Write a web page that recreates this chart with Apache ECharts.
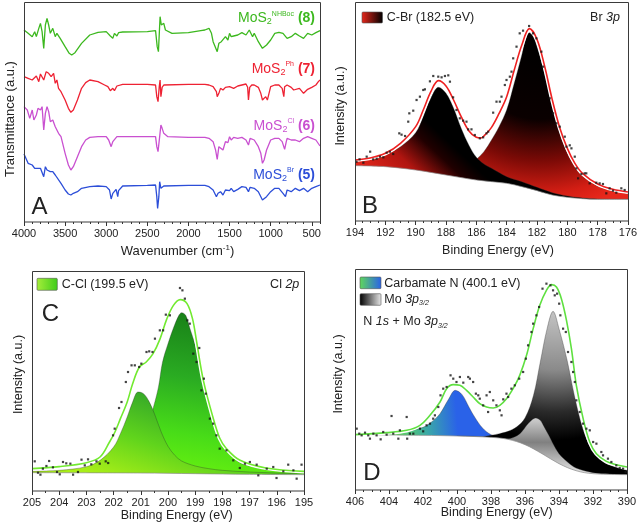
<!DOCTYPE html>
<html><head><meta charset="utf-8">
<script src="https://cdn.jsdelivr.net/npm/echarts@6/dist/echarts.min.js"></script>
<style>html,body{margin:0;padding:0;background:#fff}#c{width:640px;height:526px}</style>
</head><body><div id="c"></div>
<script>
// ---------- Panel A: FTIR (wavenumber cm-1, transmittance a.u.) ----------
const irTicks = [500,1000,1500,2000,2500,3000,3500,4000];
const ir8 = [[4000,610],[3950,600],[3900,590],[3870,605],[3850,590],[3820,615],[3800,630],[3780,605],[3760,555],[3740,625],[3720,645],[3700,625],[3680,600],[3650,615],[3620,590],[3600,600],[3560,585],[3500,560],[3450,540],[3420,535],[3380,542],[3300,570],[3200,595],[3100,603],[3000,605],[2950,592],[2920,585],[2900,600],[2870,592],[2850,602],[2800,604],[2500,605],[2400,608],[2380,560],[2365,545],[2345,650],[2330,625],[2300,630],[2280,610],[2200,600],[2000,602],[1850,608],[1800,610],[1750,615],[1720,600],[1700,575],[1680,570],[1650,545],[1630,570],[1600,575],[1580,570],[1550,590],[1520,580],[1500,600],[1480,590],[1450,592],[1400,595],[1350,602],[1300,595],[1260,610],[1220,590],[1200,600],[1150,575],[1100,555],[1050,565],[1000,580],[950,600],[900,603],[850,600],[800,585],[750,590],[700,600],[650,592],[600,585],[550,600],[500,595],[450,602],[400,608]];
const ir7 = [[4000,470],[3950,465],[3900,460],[3850,472],[3820,455],[3800,478],[3760,460],[3730,485],[3700,480],[3670,470],[3640,480],[3620,450],[3600,460],[3580,435],[3550,425],[3500,400],[3460,375],[3430,363],[3400,370],[3350,400],[3300,435],[3250,452],[3200,460],[3100,455],[3020,445],[2980,440],[2950,428],[2920,435],[2900,428],[2870,442],[2850,438],[2800,447],[2500,447],[2400,445],[2385,410],[2370,395],[2355,440],[2345,460],[2335,410],[2320,438],[2300,445],[2000,447],[1800,447],[1750,445],[1700,440],[1660,425],[1650,410],[1630,420],[1610,435],[1600,438],[1580,430],[1550,438],[1500,440],[1450,435],[1400,442],[1350,445],[1300,448],[1280,438],[1270,400],[1255,438],[1230,445],[1200,445],[1150,438],[1120,420],[1100,400],[1080,405],[1060,410],[1040,400],[1020,420],[1000,440],[950,445],[900,445],[860,435],[840,410],[830,440],[800,445],[750,438],[720,430],[700,425],[650,435],[600,420],[550,432],[500,438],[450,445],[420,455],[400,460]];
const ir6 = [[4000,380],[3960,370],[3930,345],[3900,370],[3880,340],[3850,355],[3830,375],[3800,370],[3780,380],[3760,310],[3740,360],[3720,380],[3700,365],[3680,335],[3650,340],[3620,320],[3600,320],[3580,300],[3550,290],[3500,240],[3460,205],[3430,190],[3400,200],[3350,230],[3300,260],[3250,280],[3200,288],[3100,290],[3000,290],[2970,280],[2940,260],[2920,275],[2900,272],[2870,290],[2800,290],[2500,290],[2400,290],[2385,260],[2370,245],[2350,290],[2335,325],[2320,315],[2300,300],[2250,290],[2000,288],[1800,288],[1750,285],[1700,275],[1670,250],[1650,222],[1630,260],[1610,260],[1580,250],[1550,275],[1520,272],[1500,290],[1480,280],[1450,288],[1400,285],[1350,288],[1300,280],[1270,265],[1250,285],[1200,280],[1150,260],[1120,240],[1100,210],[1080,220],[1050,250],[1000,280],[950,285],[900,285],[860,275],[830,252],[810,275],[800,285],[750,280],[700,280],[650,275],[600,285],[550,290],[500,285],[450,280],[400,262]];
const ir5 = [[4000,238],[3950,210],[3900,205],[3870,195],[3850,200],[3800,195],[3780,190],[3760,170],[3740,200],[3720,190],[3700,195],[3680,185],[3650,185],[3620,175],[3600,170],[3550,150],[3500,130],[3460,118],[3430,115],[3400,120],[3350,125],[3300,135],[3200,140],[3100,142],[3000,140],[2960,130],[2940,103],[2920,120],[2880,132],[2860,110],[2850,128],[2800,142],[2500,144],[2400,145],[2385,110],[2375,75],[2360,110],[2350,155],[2335,135],[2300,142],[2000,144],[1800,144],[1750,140],[1700,130],[1660,110],[1640,120],[1610,125],[1580,115],[1550,130],[1500,128],[1480,135],[1450,125],[1400,132],[1350,140],[1300,138],[1270,125],[1250,138],[1200,135],[1150,125],[1100,100],[1080,97],[1050,110],[1000,125],[950,135],[900,135],[850,120],[820,110],[800,130],[750,125],[700,135],[650,128],[600,135],[550,125],[500,135],[450,140],[400,145]];

// ---------- Panel B: Br 3p ----------
const brBg = [[194,203],[192,200],[190,190],[188,175],[186,160],[184,150],[183,140],[182,128],[181,115],[180,108],[179,104],[178,102],[176,102]];
const brPeak1885 = [[194,222],[193,225],[192,238],[191,260],[190,302],[189.5,350],[189,405],[188.5,438],[188,420],[187.5,375],[187,315],[186.5,265],[186,228],[185.5,208],[185,195],[184,170],[183,155],[182,138],[181,122],[180,112],[179,106],[178,103],[176,102]];
const brPeak1825 = [[194,204],[192,200],[190,195],[188,185],[187,195],[186.5,205],[186,222],[185.5,245],[185,280],[184.5,320],[184,370],[183.5,450],[183,535],[182.75,582],[182.5,602],[182.25,590],[182,560],[181.5,480],[181,385],[180.5,302],[180,242],[179.5,202],[179,172],[178,142],[177,128],[176,120]];
const brEnvelope = [[194,220],[193,226],[192,240],[191,270],[190,320],[189.5,370],[189,425],[188.5,458],[188,442],[187.5,400],[187,350],[186.5,308],[186,288],[185.7,286],[185.5,292],[185,318],[184.5,360],[184,410],[183.5,490],[183,565],[182.5,614],[182,582],[181.5,502],[181,402],[180.5,317],[180,255],[179.5,210],[179,180],[178,148],[177,132],[176,124]];
const brPoints = [[193.9,215],[193.7,222],[193.45,212],[193.23,230],[193.0,245],[192.8,222],[192.57,224],[192.35,230],[192.13,228],[191.91,242],[191.7,245],[191.48,238],[191.08,300],[190.93,296],[190.7,292],[190.49,335],[190.42,360],[190.16,368],[189.94,400],[189.72,410],[189.5,430],[189.39,432],[189.06,456],[188.84,472],[188.51,470],[188.29,468],[188.07,472],[187.85,474],[187.74,455],[187.53,408],[187.31,370],[187.09,345],[186.87,338],[186.65,335],[186.54,312],[186.32,312],[186.1,295],[185.77,285],[185.55,288],[185.33,300],[185.22,305],[184.89,362],[184.67,395],[184.45,395],[184.34,410],[184.12,445],[184.01,460],[183.79,470],[183.68,485],[183.57,525],[183.35,560],[183.14,600],[182.92,608],[182.52,622],[182.26,600],[182.04,585],[181.71,545],[181.6,500],[181.16,405],[180.94,360],[180.72,330],[180.5,320],[180.17,290],[180.06,260],[179.84,264],[179.73,255],[179.51,230],[179.4,195],[179.29,165],[179.07,178],[178.86,180],[178.75,180],[178.53,150],[178.09,152],[177.87,150],[177.65,148],[177.43,120],[177.21,135],[176.99,128],[176.77,122],[176.44,135],[176.22,130]];

// ---------- Panel C: Cl 2p ----------
const clBg = [[205,68],[201,67],[199,65],[197,63],[195,62]];
const clPeak2011 = [[205,72],[204,75],[203,86],[202.5,105],[202,145],[201.75,185],[201.5,235],[201.3,280],[201.1,310],[200.9,305],[200.7,282],[200.5,245],[200.25,190],[200,147],[199.75,120],[199.5,103],[199,88],[198.5,80],[198,75],[197,70],[196,67],[195,64]];
const clPeak1995 = [[205,70],[203,73],[202,82],[201.5,100],[201,155],[200.7,220],[200.5,275],[200.35,325],[200.2,400],[200,455],[199.8,502],[199.6,540],[199.5,548],[199.35,540],[199.2,502],[199,450],[198.8,375],[198.6,300],[198.4,245],[198.2,200],[197.85,140],[197.4,100],[197,88],[196.4,78],[196,74],[195,67]];
const clEnvelope = [[205,80],[204,86],[203,98],[202.5,115],[202.15,160],[201.95,190],[201.75,230],[201.5,280],[201.3,335],[201.05,385],[200.8,400],[200.55,425],[200.3,468],[200.05,528],[199.8,570],[199.55,587],[199.3,575],[199.1,530],[198.95,462],[198.7,345],[198.35,235],[198.1,172],[197.85,140],[197.35,105],[196.4,82],[195,72]];
const clPoints = [[204.9,102],[204.78,68],[204.69,62],[204.6,80],[204.47,88],[204.37,103],[204.23,84],[204.08,70],[203.98,63],[203.86,100],[203.74,96],[203.59,95],[203.49,62],[203.31,70],[203.18,107],[203.06,90],[202.94,108],[202.82,93],[202.63,102],[202.51,95],[202.29,102],[202.2,97],[202.02,180],[201.96,200],[201.8,262],[201.71,280],[201.55,340],[201.47,370],[201.34,390],[201.22,390],[201.06,385],[200.98,395],[200.79,430],[200.69,432],[200.57,430],[200.48,470],[200.3,495],[200.18,495],[200.08,542],[199.93,540],[199.56,622],[199.47,615],[199.38,590],[199.29,525],[199.2,515],[199.07,425],[198.95,400],[198.85,442],[198.77,315],[198.68,350],[198.61,305],[198.46,230],[198.34,215],[198.22,180],[198.1,140],[197.85,135],[197.6,105],[197.36,82],[197.17,95],[196.99,100],[196.74,92],[196.68,60],[196.37,80],[196.13,85],[196.01,52],[195.76,72],[195.58,92],[195.39,75],[195.27,50],[195.09,92]];

// ---------- Panel D: N 1s + Mo 3p3/2 ----------
const nBg = [[406,182],[402,180],[400,178],[398,174],[397,168],[396,152],[395,125],[394,95],[393,74],[392,65],[390,62]];
const nPeak4001 = [[406,185],[404,188],[403,192],[402,204],[401.5,220],[401,245],[400.5,288],[400.1,315],[399.7,302],[399.3,265],[399,238],[398.5,202],[398,182],[397.5,173],[397,168],[396,152]];
const moPeak3944 = [[400,178],[399,177],[398.5,176],[398,180],[397.5,185],[397,192],[396.5,205],[396,232],[395.5,300],[395.1,400],[394.7,500],[394.35,552],[394,500],[393.5,400],[393.1,300],[392.6,200],[392.1,140],[391.4,100],[390.4,80],[390,75]];
const moPeak3953 = [[398,173],[397,170],[396.5,178],[396.2,190],[395.9,210],[395.6,226],[395.37,232],[395.1,225],[394.9,208],[394.6,180],[394.3,150],[394,125],[393.5,100],[393,82],[392,68],[391,64],[390,62]];
const nEnvelope = [[406,182],[404.14,188],[402.96,195],[402.18,210],[401.59,240],[401,280],[400.61,320],[400.22,332],[399.83,330],[399.44,315],[399.05,295],[398.66,275],[398.26,265],[397.87,262],[397.48,270],[397.09,290],[396.7,320],[396.31,360],[395.91,420],[395.52,500],[395.13,570],[394.74,615],[394.44,632],[394.15,625],[393.86,590],[393.56,525],[393.27,440],[392.98,330],[392.58,230],[392.19,160],[391.8,125],[391.21,102],[390.63,92],[390,85]];
const nPoints = [[405.9,200],[405.75,185],[405.61,180],[405.41,188],[405.22,180],[405.12,170],[404.92,185],[404.73,180],[404.49,168],[404.34,190],[404.14,182],[403.85,238],[403.75,185],[403.45,170],[403.36,195],[402.96,235],[402.93,170],[402.77,185],[402.57,185],[402.18,200],[401.99,192],[401.79,210],[401.59,215],[401.4,230],[401.3,240],[401.1,265],[400.97,300],[400.81,320],[400.61,325],[400.38,360],[400.22,350],[400.03,340],[399.83,355],[399.63,338],[399.34,355],[399.24,350],[399.05,340],[398.89,305],[398.75,300],[398.66,290],[398.46,270],[398.26,300],[398.17,250],[398.07,310],[397.87,285],[397.68,270],[397.48,255],[397.38,240],[397.28,288],[397.09,305],[396.99,295],[396.8,320],[396.6,330],[396.34,350],[396.11,370],[395.95,410],[395.82,450],[395.62,490],[395.52,515],[395.33,540],[395.17,565],[394.97,620],[394.74,635],[394.5,630],[394.35,615],[394.25,600],[394.11,605],[393.99,575],[393.92,540],[393.76,500],[393.6,490],[393.47,430],[393.27,400],[393.17,370],[393.07,340],[392.98,285],[392.78,250],[392.58,215],[392.39,200],[392.19,195],[391.99,160],[391.8,155],[391.51,130],[391.41,120],[391.12,110],[390.92,100],[390.63,90],[390.43,82],[390.23,80],[390.08,70]];

// ---------- rendering ----------
const FONT = '"Liberation Sans", Arial, Helvetica, sans-serif';
const chart = echarts.init(document.getElementById('c'), null, {renderer: 'canvas'});

const grids = [
  {left: 24, top: 2, width: 296, height: 220},
  {left: 355, top: 2, width: 273, height: 219},
  {left: 32, top: 271, width: 272, height: 220},
  {left: 355, top: 269, width: 272, height: 221}
];

const tickColor = '#333';
const plainNum = function (v) { return String(v); };
const lbl = {fontSize: 11, color: '#222', fontFamily: FONT, margin: 6, formatter: plainNum};
function xps(gi, min, max, interval, minorSplit) {
  return {gridIndex: gi, type: 'value', min: min, max: max, interval: interval, inverse: true, position: 'bottom',
    axisLine: {show: false}, splitLine: {show: false},
    axisTick: {show: true, length: 4, lineStyle: {color: tickColor, width: 1}},
    minorTick: {show: true, splitNumber: minorSplit, length: 2, lineStyle: {color: tickColor, width: 1}},
    axisLabel: lbl, z: 10};
}
const xAxes = [
  {gridIndex: 0, type: 'value', min: 400, max: 4000, interval: 100, inverse: true, position: 'bottom',
    axisLine: {show: false}, splitLine: {show: false}, axisLabel: {show: false},
    axisTick: {show: true, length: 2, lineStyle: {color: tickColor}}, z: 10},
  {gridIndex: 0, type: 'value', min: 400, max: 4000, inverse: true, position: 'bottom',
    axisLine: {show: false}, splitLine: {show: false},
    axisTick: {show: true, length: 4, customValues: irTicks, lineStyle: {color: tickColor}},
    axisLabel: Object.assign({customValues: irTicks}, lbl), z: 10},
  xps(1, 176, 194, 2, 4),
  xps(2, 195, 205, 1, 2),
  xps(3, 390, 406, 2, 4)
];
function yax(gi, min, max) {
  return {gridIndex: gi, type: 'value', min: min, max: max, show: true,
    axisLine: {show: false}, axisTick: {show: false}, axisLabel: {show: false}, splitLine: {show: false}};
}
const yAxes = [yax(0, 34, 694), yax(1, 37, 694), yax(2, 13, 673), yax(3, 16, 679)];

function irLine(data, color) {
  return {type: 'line', xAxisIndex: 1, yAxisIndex: 0, data: data, symbol: 'none', smooth: false,
    lineStyle: {color: color, width: 1.3}, z: 3, animation: false};
}
function area(xi, yi, data, fill, z) {
  return {type: 'line', xAxisIndex: xi, yAxisIndex: yi, data: data, symbol: 'none', smooth: 0.35,
    lineStyle: {color: 'rgba(40,40,40,0.55)', width: 0.6},
    areaStyle: {color: fill, opacity: 1, origin: 'start'}, z: z, animation: false};
}
function bgCover(xi, yi, data, z) {
  return {type: 'line', xAxisIndex: xi, yAxisIndex: yi, data: data, symbol: 'none', smooth: 0.35,
    lineStyle: {color: '#8a8a8a', width: 0.7},
    areaStyle: {color: '#ffffff', opacity: 1, origin: 'start'}, z: z, animation: false};
}
function env(xi, yi, data, color, z) {
  return [
    {type: 'line', xAxisIndex: xi, yAxisIndex: yi, data: data, symbol: 'none', smooth: 0.35,
      lineStyle: {color: '#ffffff', width: 4.2}, z: z, animation: false},
    {type: 'line', xAxisIndex: xi, yAxisIndex: yi, data: data, symbol: 'none', smooth: 0.35,
      lineStyle: {color: color, width: 1.6}, z: z + 1, animation: false}
  ];
}
function pts(xi, yi, data, z) {
  return {type: 'scatter', xAxisIndex: xi, yAxisIndex: yi, data: data, symbol: 'rect', symbolSize: 2.2,
    itemStyle: {color: '#151515'}, z: z, animation: false};
}
const lin = (x, y, x2, y2, stops) => ({type: 'linear', x: x, y: y, x2: x2, y2: y2, global: true,
  colorStops: stops.map(s => ({offset: s[0], color: s[1]}))});
const rad = (x, y, r, stops) => ({type: 'radial', x: x, y: y, r: r, global: true,
  colorStops: stops.map(s => ({offset: s[0], color: s[1]}))});

const series = [
  irLine(ir8, '#3cb81e'), irLine(ir7, '#ee2233'), irLine(ir6, '#c950d0'), irLine(ir5, '#2c4ed8'),
  // B
  area(2, 1, brPeak1825, rad(540, 45, 165, [[0,'#000'],[0.45,'#0a0000'],[0.7,'#7a0a06'],[0.9,'#d41e14'],[1,'#e8281c']]), 4),
  area(2, 1, brPeak1885, lin(380, 190, 455, 110, [[0,'#e8281c'],[0.35,'#b01510'],[0.6,'#200000'],[0.75,'#000']]), 5),
  bgCover(2, 1, brBg, 6),
  ...env(2, 1, brEnvelope, '#ee2020', 7),
  pts(2, 1, brPoints, 9),
  // C
  area(3, 2, clPeak1995, lin(185, 312, 160, 470, [[0,'#188018'],[0.4,'#2aab22'],[0.75,'#48dc18'],[1,'#66f010']]), 4),
  area(3, 2, clPeak2011, lin(145, 392, 115, 480, [[0,'#35a828'],[0.5,'#60d41c'],[1,'#a8ee18']]), 5),
  bgCover(3, 2, clBg, 6),
  ...env(3, 2, clEnvelope, '#72ea30', 7),
  pts(3, 2, clPoints, 9),
  // D
  area(4, 3, nPeak4001, lin(395, 400, 455, 395, [[0,'#5fd85a'],[0.5,'#3aa8a8'],[1,'#2a62e8']]), 4),
  area(4, 3, moPeak3944, rad(555, 300, 140, [[0,'#cfcfcf'],[0.5,'#8a8a8a'],[0.8,'#2a2a2a'],[1,'#000']]), 5),
  area(4, 3, moPeak3953, lin(536, 418, 536, 472, [[0,'#d0d0d0'],[0.45,'#808080'],[1,'#e0e0e0']]), 6),
  bgCover(4, 3, nBg, 7),
  ...env(4, 3, nEnvelope, '#5fe040', 8),
  pts(4, 3, nPoints, 10)
];

function txt(x, y, text, opt) {
  return {type: 'text', x: x, y: y, z: 120, silent: true,
    style: Object.assign({text: text, fontFamily: FONT, fontSize: 12.5, fill: '#222', align: 'left', verticalAlign: 'middle'}, opt || {})};
}
function frame(g) {
  return {type: 'rect', z: 110, silent: true,
    shape: {x: g.left + 0.5, y: g.top + 0.5, width: g.width, height: g.height - 0.5},
    style: {fill: 'none', stroke: '#3a3a3a', lineWidth: 1}};
}
function swatch(x, y, w, h, fill) {
  return {type: 'rect', z: 115, silent: true, shape: {x: x, y: y, width: w, height: h, r: 1},
    style: {fill: fill, stroke: '#555', lineWidth: 0.6}};
}
const swGrad = (stops) => ({type: 'linear', x: 0, y: 0, x2: 1, y2: 0, colorStops: stops.map(s => ({offset: s[0], color: s[1]}))});

function moLabel(x, y, sup, num, color) {
  return txt(x, y, '{a|MoS}{s|2}{p|' + sup + '}{b| (' + num + ')}', {align: 'right', fill: color,
    rich: {
      a: {fontSize: 14, lineHeight: 16, fontFamily: FONT, fill: color, verticalAlign: 'middle'},
      s: {fontSize: 9, lineHeight: 10, fontFamily: FONT, fill: color, verticalAlign: 'bottom'},
      p: {fontSize: 7, lineHeight: 8, fontFamily: FONT, fill: color, verticalAlign: 'top'},
      b: {fontSize: 14, lineHeight: 16, fontFamily: FONT, fontWeight: 'bold', fill: color, verticalAlign: 'middle'}
    }});
}
const richIt = {
  n: {fontSize: 12.5, lineHeight: 15, fontFamily: FONT, fill: '#222', verticalAlign: 'middle'},
  i: {fontSize: 12.5, lineHeight: 15, fontFamily: FONT, fontStyle: 'italic', fill: '#222', verticalAlign: 'middle'},
  s: {fontSize: 7, lineHeight: 9, fontFamily: FONT, fontStyle: 'italic', fill: '#222', verticalAlign: 'bottom'}
};

const graphics = [
  frame(grids[0]), frame(grids[1]), frame(grids[2]), frame(grids[3]),
  // panel letters
  txt(39.5, 207, 'A', {fontSize: 24, align: 'center'}),
  txt(370, 206, 'B', {fontSize: 24, align: 'center'}),
  txt(50.3, 314, 'C', {fontSize: 24, align: 'center'}),
  txt(372, 473, 'D', {fontSize: 24, align: 'center'}),
  // panel A labels
  moLabel(315, 18.3, 'NHBoc', '8', '#3cb81e'),
  moLabel(315, 69, 'Ph', '7', '#ee2233'),
  moLabel(315, 126, 'Cl', '6', '#c950d0'),
  moLabel(315, 175, 'Br', '5', '#2c4ed8'),
  // axis names
  txt(177.5, 251.5, '{n|Wavenumber (cm}{s|-1}{n|)}', {align: 'center', rich: {
    n: {fontSize: 13, lineHeight: 15, fontFamily: FONT, fill: '#222', verticalAlign: 'middle'},
    s: {fontSize: 8, lineHeight: 9, fontFamily: FONT, fill: '#222', verticalAlign: 'top'}}}),
  txt(498, 250.5, 'Binding Energy (eV)', {align: 'center'}),
  txt(176.7, 516, 'Binding Energy (eV)', {align: 'center'}),
  txt(496.7, 513, 'Binding Energy (eV)', {align: 'center'}),
  // legends B
  swatch(362, 12, 20.5, 11, swGrad([[0,'#e8281c'],[1,'#000']])),
  txt(386.7, 17.3, 'C-Br (182.5 eV)'),
  txt(620, 17.3, '{n|Br }{i|3p}', {align: 'right', rich: richIt}),
  // legends C
  swatch(37, 278.3, 20.3, 12, swGrad([[0,'#a6ee3a'],[1,'#3fcc1a']])),
  txt(61.7, 284.3, 'C-Cl (199.5 eV)'),
  txt(299.3, 284.3, '{n|Cl }{i|2p}', {align: 'right', rich: richIt}),
  // legends D
  swatch(360, 277, 21, 11.7, swGrad([[0,'#5fd85a'],[1,'#2a62e8']])),
  txt(384.3, 283.3, 'Carbamate N (400.1 eV)'),
  swatch(360, 293.7, 21, 11.6, swGrad([[0,'#000'],[1,'#e8e8e8']])),
  txt(384.3, 299.5, '{n|Mo }{i|3p}{s|3/2}', {rich: richIt}),
  txt(363.3, 322, '{n|N }{i|1s}{n| + Mo }{i|3p}{s|3/2}', {rich: richIt})
];
// rotated y-axis names
[[10, 119, 'Transmittance (a.u.)', 13], [341, 106, 'Intensity (a.u.)', 12.5], [19, 374.5, 'Intensity (a.u.)', 12.5], [339, 374, 'Intensity (a.u.)', 12.5]].forEach(function (d) {
  const t = txt(d[0], d[1], d[2], {fontSize: d[3], align: 'center'});
  t.rotation = Math.PI / 2;
  graphics.push(t);
});

chart.setOption({
  animation: false,
  backgroundColor: '#ffffff',
  textStyle: {fontFamily: FONT},
  grid: grids.map(g => Object.assign({outerBoundsMode: 'none', containLabel: false, show: false}, g)),
  xAxis: xAxes,
  yAxis: yAxes,
  series: series,
  graphic: {elements: graphics}
});
</script></body></html>
